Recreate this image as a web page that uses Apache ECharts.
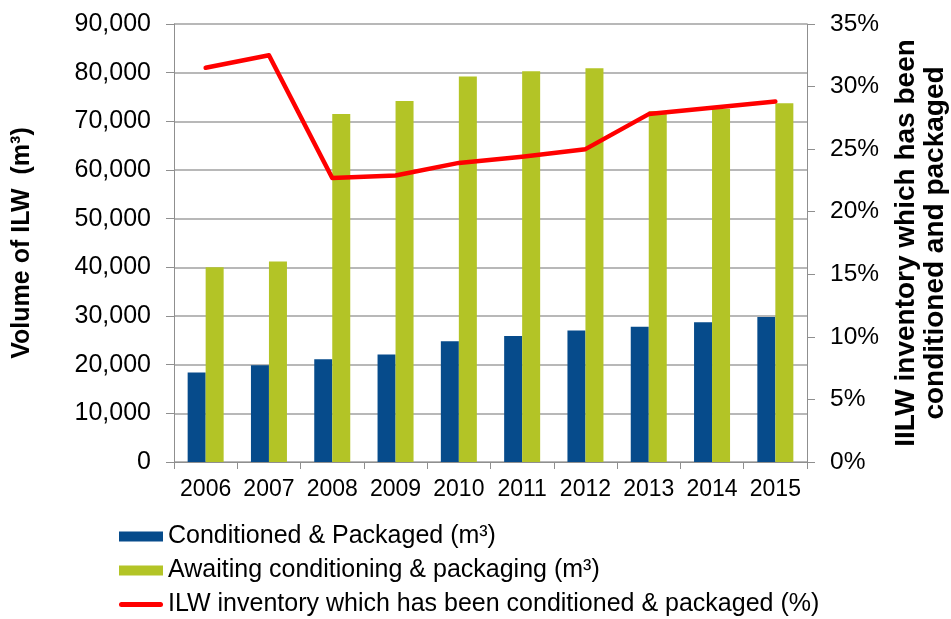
<!DOCTYPE html>
<html>
<head>
<meta charset="utf-8">
<script src="https://cdn.jsdelivr.net/npm/echarts@6/dist/echarts.min.js"></script>
<style>
html,body{margin:0;padding:0;background:#fff;}
#chart{width:951px;height:619px;}
</style>
</head>
<body>
<div id="chart"></div>
<script>
var years = ['2006','2007','2008','2009','2010','2011','2012','2013','2014','2015'];
var conditioned = [18400, 19900, 21100, 22100, 24800, 25900, 27000, 27800, 28700, 29800];
var awaiting = [40000, 41200, 71500, 74200, 79200, 80300, 80900, 72100, 72600, 73700];
var percentDone = [31.5, 32.5, 22.7, 22.9, 23.9, 24.4, 25.0, 27.8, 28.3, 28.8];
var leftTicks = {min: 0, max: 90000, interval: 10000};
var rightTicks = {min: 0, max: 35, interval: 5};

var FONT = "'Liberation Sans', Arial, sans-serif";
var GRAY = '#8f8f8f';
var chart = echarts.init(document.getElementById('chart'), null, {renderer: 'canvas'});
chart.setOption({
  animation: false,
  backgroundColor: '#ffffff',
  textStyle: {fontFamily: FONT},
  grid: {left: 174, right: 144, top: 24, bottom: 157, containLabel: false, outerBoundsMode: 'none'},
  legend: {
    orient: 'vertical',
    left: 119,
    top: 524,
    height: 95,
    padding: 0,
    itemWidth: 44,
    itemHeight: 10,
    itemGap: 9,
    textStyle: {fontFamily: FONT, fontSize: 25, color: '#000', lineHeight: 25},
    data: [
      {name: 'Conditioned & Packaged (m³)', icon: 'rect'},
      {name: 'Awaiting conditioning & packaging (m³)', icon: 'rect'},
      {name: 'ILW inventory which has been conditioned & packaged (%)', icon: 'path://M2.5,0L41.5,0A2.5,2.5,0,0,1,41.5,5L2.5,5A2.5,2.5,0,0,1,2.5,0Z'}
    ]
  },
  xAxis: {
    type: 'category',
    data: years,
    axisLine: {lineStyle: {color: GRAY, width: 1}},
    axisTick: {show: true, length: 7, lineStyle: {color: GRAY}},
    axisLabel: {fontFamily: FONT, fontSize: 23, color: '#000', margin: 16, interval: 0}
  },
  yAxis: [
    {
      type: 'value',
      min: leftTicks.min, max: leftTicks.max, interval: leftTicks.interval,
      name: 'Volume of ILW  (m³)',
      nameLocation: 'middle',
      nameRotate: 90,
      nameGap: 139,
      nameTextStyle: {fontFamily: FONT, fontSize: 25, fontWeight: 'bold', color: '#000'},
      axisLine: {show: true, lineStyle: {color: GRAY}},
      axisTick: {show: true, length: 8, lineStyle: {color: GRAY}},
      axisLabel: {
        fontFamily: FONT, fontSize: 25, color: '#000', margin: 23,
        formatter: function(v){ return v.toLocaleString('en-US'); }
      },
      splitLine: {show: true, lineStyle: {color: '#a0a0a0', width: 1.5}}
    },
    {
      type: 'value',
      position: 'right',
      min: rightTicks.min, max: rightTicks.max, interval: rightTicks.interval,
      name: 'IILW inventory which has been\nconditioned and packaged',
      nameLocation: 'middle',
      nameRotate: 90,
      nameGap: 85,
      nameTextStyle: {fontFamily: FONT, fontSize: 28, fontWeight: 'bold', color: '#000', lineHeight: 29},
      axisLine: {show: true, lineStyle: {color: GRAY}},
      axisTick: {show: true, length: 8, lineStyle: {color: GRAY}},
      axisLabel: {fontFamily: FONT, fontSize: 24.5, color: '#000', margin: 23, formatter: '{value}%'},
      splitLine: {show: false}
    }
  ],
  series: [
    {
      name: 'Conditioned & Packaged (m³)',
      type: 'bar',
      data: conditioned,
      barWidth: 18,
      barGap: '0%',
      itemStyle: {color: '#064b8b'}
    },
    {
      name: 'Awaiting conditioning & packaging (m³)',
      type: 'bar',
      data: awaiting,
      barWidth: 18,
      barGap: '0%',
      itemStyle: {color: '#b3c426'}
    },
    {
      name: 'ILW inventory which has been conditioned & packaged (%)',
      type: 'line',
      yAxisIndex: 1,
      data: percentDone,
      symbol: 'none',
      showSymbol: false,
      lineStyle: {color: '#ff0000', width: 4.5, cap: 'round', join: 'round'},
      itemStyle: {color: '#ff0000'},
      z: 5
    }
  ]
});
</script>
</body>
</html>
